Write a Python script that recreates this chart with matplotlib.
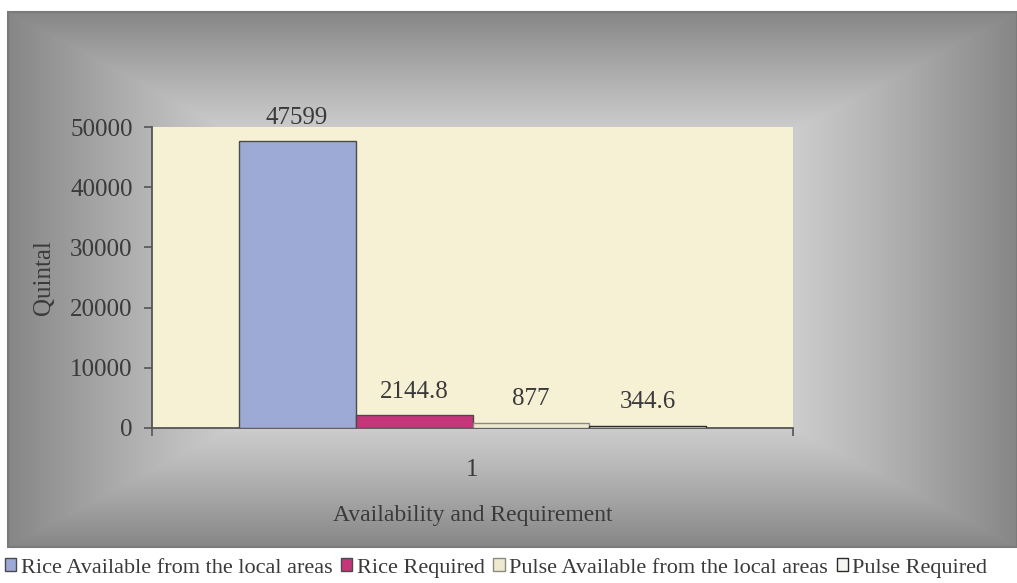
import numpy as np
import matplotlib
matplotlib.use("Agg")
import matplotlib.pyplot as plt
from matplotlib.patches import Rectangle

# data
series = [
    "Rice Available from the local areas",
    "Rice Required",
    "Pulse Available from the local areas",
    "Pulse Required",
]
values = [47599, 2144.8, 877, 344.6]
value_labels = ["47599", "2144.8", "877", "344.6"]
category = 1
y_ticks = [0, 10000, 20000, 30000, 40000, 50000]

fills = ["#9DAAD6", "#C4357A", "#EEEAD2", "#F6F6F2"]
edges = ["#4A4A4A", "#4A4A4A", "#8A8A80", "#2A2A2A"]

plt.rcParams["font.family"] = ["Liberation Serif", "DejaVu Serif"]
text_color = "#3A3A3A"

W, H = 1017, 583
fig = plt.figure(figsize=(W / 100, H / 100), dpi=100)
fig.patch.set_facecolor("white")

# rectangular "from centre" gradient behind the chart
bg = fig.add_axes([0, 0, 1, 1], zorder=-5)
bg.set_xlim(0, W)
bg.set_ylim(H, 0)
bg.axis("off")
x0, x1, y0, y1 = 8, W, 12, 547
gx = np.linspace(-1, 1, x1 - x0)
gy = np.linspace(-1, 1, y1 - y0)
t = np.maximum(np.abs(gx)[None, :], np.abs(gy)[:, None])
grey = 255 - (255 - 134) * t ** 1.5
img = np.dstack([grey, grey, grey]) / 255.0
bg.imshow(img, extent=(x0, x1, y1, y0), aspect="auto", interpolation="bilinear")
bg.add_patch(Rectangle((x0, y0), x1 - x0, y1 - y0, fill=False, edgecolor="#7A7A7A", lw=1.5))

# main plot
ax = fig.add_axes([152 / W, 1 - 428 / H, (793 - 152) / W, (428 - 127) / H])
ax.set_facecolor("#F6F1D5")

width = 0.1825
offsets = (np.arange(len(values)) - (len(values) - 1) / 2) * width
bars = ax.bar(category + offsets, values, width=width, color=fills,
              edgecolor=edges, linewidth=1.0, label=series, zorder=3)

for b, lab in zip(bars, value_labels):
    ax.annotate(lab, (b.get_x() + b.get_width() / 2, b.get_height()),
                xytext=(0, 9), textcoords="offset points",
                ha="center", va="bottom", fontsize=18, color=text_color)

ax.set_xlim(0.5, 1.5)
ax.set_ylim(0, 50000)
ax.set_yticks(y_ticks)
ax.set_yticklabels([str(v) for v in y_ticks])
ax.tick_params(axis="y", direction="out", length=6, width=1.2, pad=8,
               colors="#555555", labelcolor=text_color, labelsize=18)

ax.set_xticks([0.5, 1.5])
ax.set_xticklabels(["", ""])
ax.set_xticks([category], minor=True)
ax.set_xticklabels([str(category)], minor=True)
ax.tick_params(axis="x", which="major", direction="out", length=6, width=1.2, colors="#555555")
ax.tick_params(axis="x", which="minor", length=0, pad=22, labelsize=18, labelcolor=text_color)

for s in ["top", "right"]:
    ax.spines[s].set_visible(False)
for s in ["left", "bottom"]:
    ax.spines[s].set_color("#555555")
    ax.spines[s].set_linewidth(1.3)

ax.set_xlabel("Availability and Requirement", fontsize=17, color=text_color)
ax.xaxis.set_label_coords(0.5, -0.255)
ax.set_ylabel("Quintal", fontsize=18, color=text_color)
ax.yaxis.set_label_coords(-0.152, 0.5)

fig.legend(handles=bars.patches, labels=series, loc="center left",
           bbox_to_anchor=(0.005, 1 - 568 / H), ncol=4, frameon=False,
           fontsize=16, handlelength=0.5, handleheight=0.5,
           handletextpad=0.2, columnspacing=0.4, borderaxespad=0,
           borderpad=0, labelcolor=text_color)

fig.savefig("out.png", dpi=100, facecolor="white")
